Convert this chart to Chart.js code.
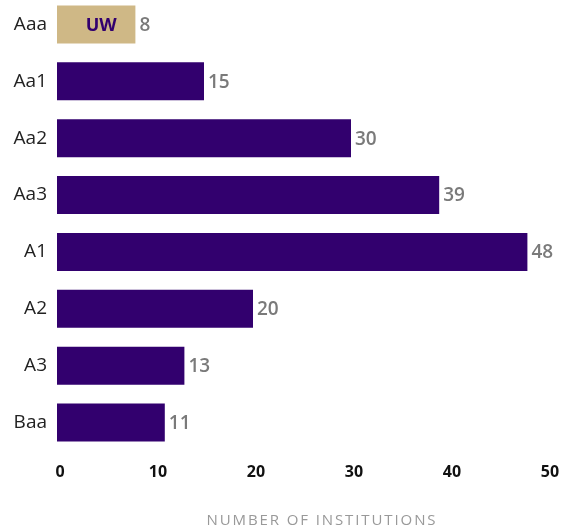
<!DOCTYPE html>
<html>
<head>
<meta charset="utf-8">
<script src="https://cdn.jsdelivr.net/npm/chart.js@4/dist/chart.umd.min.js"></script>
<style>
html,body{margin:0;padding:0;background:#fff;overflow:hidden;}
#wrap{width:562px;height:529px;position:relative;overflow:hidden;}
#c{position:absolute;left:0;top:-4px;}
</style>
</head>
<body>
<div id="wrap"><canvas id="c" width="562" height="533"></canvas></div>
<script>
const categories = ["Aaa", "Aa1", "Aa2", "Aa3", "A1", "A2", "A3", "Baa"];
const institutions = [8, 15, 30, 39, 48, 20, 13, 11];
const highlight = ["UW", "", "", "", "", "", "", ""];
const xTicks = [0, 10, 20, 30, 40, 50];
const axisTitle = "NUMBER OF INSTITUTIONS";

const PURPLE = "#32006e";
const GOLD = "#cfb886";
const barColors = highlight.map(h => h ? GOLD : PURPLE);

const labelPlugin = {
  id: "valueLabels",
  afterDatasetsDraw(chart) {
    const ctx = chart.ctx;
    const meta = chart.getDatasetMeta(0);
    ctx.save();
    meta.data.forEach((bar, i) => {
      ctx.textBaseline = "middle";
      ctx.textAlign = "left";
      ctx.fillStyle = "#7a7a7a";
      ctx.font = "600 19px 'Open Sans'";
      ctx.fillText(String(institutions[i]), bar.x + 4, bar.y + 1);
      if (highlight[i]) {
        ctx.textAlign = "center";
        ctx.fillStyle = PURPLE;
        ctx.font = "bold 18px 'Open Sans'";
        ctx.fillText(highlight[i], (bar.x + bar.base) / 2 + 5, bar.y + 1);
      }
    });
    const a = chart.chartArea;
    ctx.textAlign = "center";
    ctx.textBaseline = "middle";
    ctx.fillStyle = "#999999";
    ctx.font = "15px 'Open Sans'";
    try { ctx.letterSpacing = "1.9px"; } catch (e) {}
    ctx.fillText(axisTitle, (a.left + a.right) / 2 + 20, chart.height - 8);
    ctx.restore();
  }
};

new Chart(document.getElementById("c"), {
  type: "bar",
  data: {
    labels: categories,
    datasets: [{
      data: institutions,
      backgroundColor: barColors,
      borderWidth: 0,
      barPercentage: 0.667,
      categoryPercentage: 1.0
    }]
  },
  options: {
    indexAxis: "y",
    responsive: false,
    animation: false,
    layout: { padding: { top: 0, right: 15, bottom: 0, left: 0 } },
    plugins: { legend: { display: false }, tooltip: { enabled: false }, title: { display: false } },
    scales: {
      x: {
        min: 0, max: 50,
        afterBuildTicks(scale) { scale.ticks = xTicks.map(v => ({ value: v })); },
        afterFit(scale) { scale.height = 78; scale.paddingLeft = 0; scale.paddingRight = 0; },
        grid: { display: false, drawTicks: false },
        border: { display: false },
        ticks: { color: "#111", font: { family: "'Open Sans'", size: 16, weight: "bold" }, padding: 12, labelOffset: 3 }
      },
      y: {
        afterFit(scale) { scale.width = 57; scale.paddingTop = 0; scale.paddingBottom = 0; },
        grid: { display: false, drawTicks: false },
        border: { display: false },
        ticks: { color: "#222", font: { family: "'Open Sans'", size: 19 }, padding: 10 }
      }
    }
  },
  plugins: [labelPlugin]
});
</script>
</body>
</html>
